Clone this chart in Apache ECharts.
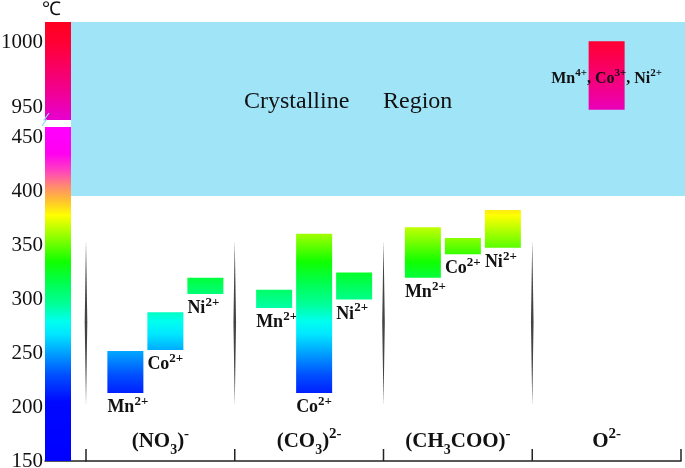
<!DOCTYPE html>
<html><head><meta charset="utf-8">
<script src="https://cdn.jsdelivr.net/npm/echarts@6/dist/echarts.min.js"></script>
<style>html,body{margin:0;padding:0;background:#fff}#c{width:685px;height:468px}</style>
</head><body><div id="c"></div>
<script>
// ---------- data ----------
const categories = ['(NO{sub|3}){sup|-}', '(CO{sub|3}){sup|2-}', '(CH{sub|3}COO){sup|-}', 'O{sup|2-}'];
const ions = ['Mn', 'Co', 'Ni'];
const ionCharge = '2+';
const mnRange = [[213, 252], [292, 309], [320, 367]];
const coRange = [[253, 288], [213, 361], [342, 357]];
const niRange = [[305, 320], [300, 325], [348, 383]];
const oxideRange = [948, 1001];
const oxideLabel = 'Mn{s|4+}, Co{s|3+}, Ni{s|2+}';
const regionWords = ['Crystalline', 'Region'];
const crystallineRange = [396, 1016];
const separatorRange = [202, 355];
const lowerTicks = [150, 200, 250, 300, 350, 400, 450];
const upperTicks = [950, 1000];
const lowerExtent = [150, 460];
const upperExtent = [940, 1016];

// ---------- colour scale (style) ----------
const lowerStops = [[150,'#0000ff'],[205,'#0008ff'],[230,'#0050ff'],[250,'#00a0ff'],[268,'#00e8ff'],[280,'#00ffee'],[295,'#00ff9a'],[315,'#00ff50'],[335,'#10ff00'],[355,'#80ff00'],[378,'#ffff00'],[392,'#ffc030'],[405,'#ff8a70'],[420,'#ff40c0'],[435,'#ff00f0'],[460,'#ff00ff']];
const upperStops = [[940,'#e600d0'],[960,'#f00098'],[985,'#fa0058'],[1000,'#ff0034'],[1016,'#ff0020']];

function hex2rgb(h){return [parseInt(h.substr(1,2),16),parseInt(h.substr(3,2),16),parseInt(h.substr(5,2),16)];}
function colorAt(stops, v){
  if (v <= stops[0][0]) return stops[0][1];
  for (let i=1;i<stops.length;i++){
    if (v <= stops[i][0]){
      const t=(v-stops[i-1][0])/(stops[i][0]-stops[i-1][0]);
      const a=hex2rgb(stops[i-1][1]), b=hex2rgb(stops[i][1]);
      return 'rgb('+a.map((x,k)=>Math.round(x+(b[k]-x)*t)).join(',')+')';
    }
  }
  return stops[stops.length-1][1];
}
function gradientFor(stops, lo, hi){
  const cs=[{offset:0,color:colorAt(stops,hi)}];
  stops.forEach(s=>{ if(s[0]>lo && s[0]<hi) cs.push({offset:(hi-s[0])/(hi-lo),color:s[1]}); });
  cs.push({offset:1,color:colorAt(stops,lo)});
  cs.sort((a,b)=>a.offset-b.offset);
  return {type:'linear',x:0,y:0,x2:0,y2:1,colorStops:cs};
}

// ---------- layout / style constants ----------
const serif = '"Liberation Serif","Times New Roman",serif';
const textColor = '#111';
const axisColor = '#222';
const bandColor = '#a0e4f8';
const breakGap = 7;
const bandPadLeft = 15;
const colorBarWidth = 26;
const barW = 36;
const slotGap = 40;
const slotShift = 5;
const tickLen = 12;

const barData = [];
[mnRange, coRange, niRange].forEach((arr, slot) => arr.forEach((r, cat) => barData.push([cat, slot, r[0], r[1]])));

const chart = echarts.init(document.getElementById('c'));

function colorBarItem(stops){
  return function(params, api){
    const cs = params.coordSys;
    const top = api.coord([0, api.value(2)])[1], bot = api.coord([0, api.value(1)])[1];
    return {type:'rect', shape:{x:cs.x, y:top, width:colorBarWidth, height:bot-top}, style:{fill:gradientFor(stops, api.value(1), api.value(2))}};
  };
}
function bandItem(params, api){
  const cs = params.coordSys;
  const lo = api.value(1), hi = api.value(2);
  let yTop = Math.max(api.coord([0, hi])[1], cs.y);
  const yBot = Math.min(api.coord([0, lo])[1], cs.y + cs.height);
  if (params.seriesIndex === 2) yTop -= breakGap;
  const x0 = cs.x - bandPadLeft;
  return {type:'rect', shape:{x:x0, y:yTop, width:api.getWidth()-x0, height:yBot-yTop}, style:{fill:bandColor}};
}

const ionRich = {s:{fontFamily:serif,fontSize:13,fontWeight:'bold',verticalAlign:'top',fill:textColor}};
const noBounds = {outerBoundsMode:'none', containLabel:false};
const regionStyle = {fontFamily:serif,fontSize:24,fontWeight:'normal',color:textColor};

chart.setOption({
  animation:false,
  backgroundColor:'#fff',
  title:[
    {text:'℃', left:42, top:1, padding:0, textStyle:{fontFamily:serif,fontSize:19,fontWeight:'normal',color:textColor}},
    {text:regionWords[0], left:244, top:90, padding:0, textStyle:regionStyle},
    {text:regionWords[1], left:383, top:90, padding:0, textStyle:regionStyle}
  ],
  grid:[
    Object.assign({left:45, top:127, width:41, height:334}, noBounds),
    Object.assign({left:45, top:22, width:41, height:98}, noBounds),
    Object.assign({left:86, right:4, top:127, height:334}, noBounds),
    Object.assign({left:86, right:4, top:22, height:98}, noBounds)
  ],
  xAxis:[
    {gridIndex:0, type:'category', data:['scale'], axisLine:{lineStyle:{color:axisColor,width:1.5}}, axisTick:{show:false}, axisLabel:{show:false}, splitLine:{show:false}},
    {gridIndex:1, type:'category', data:['scale'], show:false},
    {gridIndex:2, type:'category', data:categories, axisLine:{show:true, lineStyle:{color:axisColor,width:1.5}},
      axisTick:{show:false},
      axisLabel:{inside:true, interval:0, hideOverlap:false, margin:4, color:textColor, fontFamily:serif, fontSize:21, fontWeight:'bold', lineHeight:30,
        rich:{sub:{fontFamily:serif,fontSize:14,fontWeight:'bold',verticalAlign:'bottom',color:textColor},
              sup:{fontFamily:serif,fontSize:15,fontWeight:'bold',verticalAlign:'top',color:textColor}}},
      splitLine:{show:false}},
    {gridIndex:3, type:'category', data:categories, show:false}
  ],
  yAxis:[
    {gridIndex:0, type:'value', min:lowerExtent[0], max:lowerExtent[1], axisLine:{show:false}, axisTick:{show:false}, splitLine:{show:false},
      axisLabel:{customValues:lowerTicks, formatter:v=>String(v), margin:2, color:textColor, fontFamily:serif, fontSize:21}},
    {gridIndex:1, type:'value', min:upperExtent[0], max:upperExtent[1], axisLine:{show:false}, axisTick:{show:false}, splitLine:{show:false},
      axisLabel:{customValues:upperTicks, formatter:v=>String(v), margin:2, color:textColor, fontFamily:serif, fontSize:21}},
    {gridIndex:2, type:'value', min:lowerExtent[0], max:lowerExtent[1], show:false, splitLine:{show:false}},
    {gridIndex:3, type:'value', min:upperExtent[0], max:upperExtent[1], show:false, splitLine:{show:false}}
  ],
  series:[
    {type:'custom', xAxisIndex:0, yAxisIndex:0, z:2, data:[[0, lowerExtent[0], lowerExtent[1]]], renderItem:colorBarItem(lowerStops)},
    {type:'custom', xAxisIndex:1, yAxisIndex:1, z:2, data:[[0, upperExtent[0], upperExtent[1]]], renderItem:colorBarItem(upperStops)},
    {type:'custom', xAxisIndex:2, yAxisIndex:2, z:1, data:[[0, crystallineRange[0], crystallineRange[1]]], renderItem:bandItem},
    {type:'custom', xAxisIndex:3, yAxisIndex:3, z:1, data:[[0, crystallineRange[0], crystallineRange[1]]], renderItem:bandItem},
    {type:'custom', xAxisIndex:2, yAxisIndex:2, z:3, data:[0,1,2,3].map(i=>[i, separatorRange[0], separatorRange[1]]),
      renderItem:function(params, api){
        const band = api.size([1,0])[0];
        const t = api.coord([api.value(0), api.value(2)]), b = api.coord([api.value(0), api.value(1)]);
        const x = t[0] - band/2, m = (t[1]+b[1])/2;
        return {type:'polygon', shape:{points:[[x,t[1]],[x+1.3,m],[x,b[1]],[x-1.3,m]]}, style:{fill:'#444'}};
      }},
    // category boundary ticks (at the band edges of the category axis)
    {type:'custom', xAxisIndex:2, yAxisIndex:2, z:5, data:[0,1,2,3,4].map(i=>[i]),
      renderItem:function(params, api){
        const band = api.size([1,0])[0];
        const base = api.coord([0, lowerExtent[0]]);
        const x = base[0] - band/2 + api.value(0)*band;
        return {type:'line', shape:{x1:x, y1:base[1], x2:x, y2:base[1]-tickLen}, style:{stroke:axisColor, lineWidth:1.5}};
      }},
    {type:'custom', xAxisIndex:2, yAxisIndex:2, z:4, data:barData,
      renderItem:function(params, api){
        const cat=api.value(0), slot=api.value(1), lo=api.value(2), hi=api.value(3);
        const t=api.coord([cat,hi]), b=api.coord([cat,lo]);
        const x = t[0] + (slot-1)*slotGap + slotShift - barW/2;
        return {type:'group', children:[
          {type:'rect', shape:{x:x, y:t[1], width:barW, height:b[1]-t[1]}, style:{fill:gradientFor(lowerStops, lo, hi)}},
          {type:'text', style:{text:ions[slot]+'{s|'+ionCharge+'}', x:x, y:b[1]+2, align:'left', verticalAlign:'top',
            fontFamily:serif, fontSize:18, fontWeight:'bold', lineHeight:25, fill:textColor, rich:ionRich}}
        ]};
      }},
    {type:'custom', xAxisIndex:3, yAxisIndex:3, z:4, data:[[3, oxideRange[0], oxideRange[1]]],
      renderItem:function(params, api){
        const lo=api.value(1), hi=api.value(2);
        const t=api.coord([api.value(0),hi]), b=api.coord([api.value(0),lo]);
        const x = t[0]-barW/2;
        return {type:'group', children:[
          {type:'rect', shape:{x:x, y:t[1], width:barW, height:b[1]-t[1]}, style:{fill:gradientFor(upperStops, lo, hi)}},
          {type:'text', style:{text:oxideLabel, x:t[0], y:(t[1]+b[1])/2+3, align:'center', verticalAlign:'middle',
            fontFamily:serif, fontSize:16, fontWeight:'bold', lineHeight:22, fill:textColor,
            rich:{s:{fontFamily:serif,fontSize:11,fontWeight:'bold',verticalAlign:'top',fill:textColor}}}}
        ]};
      }}
  ],
  graphic:[
    {type:'polyline', shape:{points:[[42,126],[46,120],[44,120],[49,113]]}, style:{stroke:'#8fdcf2', lineWidth:1.2, fill:null}, z:10}
  ]
});
</script></body></html>
